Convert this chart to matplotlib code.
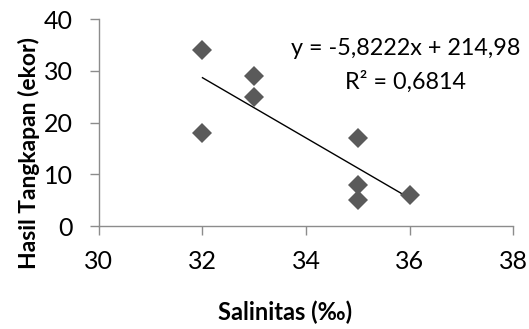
import numpy as np
import matplotlib
matplotlib.use('Agg')
import matplotlib.pyplot as plt

plt.rcParams['font.family'] = ['Lato', 'DejaVu Sans']

salinitas = [32, 32, 33, 33, 35, 35, 35, 36]
hasil = [34, 18, 29, 25, 17, 8, 5, 6]

# linear trendline (same as Excel's)
slope, intercept = np.polyfit(salinitas, hasil, 1)
pred = slope * np.array(salinitas) + intercept
r2 = 1 - np.sum((np.array(hasil) - pred) ** 2) / np.sum((np.array(hasil) - np.mean(hasil)) ** 2)

fig = plt.figure(figsize=(5.29, 3.29), dpi=100)
ax = fig.add_axes([0.187, 0.313, 0.783, 0.629])

ax.plot(salinitas, hasil, linestyle='none', marker='D', markersize=10.5,
        color='#5a5a5a', markeredgewidth=0, zorder=3)
xs = np.array([min(salinitas), max(salinitas)])
ax.plot(xs, slope * xs + intercept, color='black', linewidth=1, zorder=2)

ax.set_xlim(30, 38)
ax.set_ylim(0, 40)
ax.set_xticks([30, 32, 34, 36, 38])
ax.set_yticks([0, 10, 20, 30, 40])

for s in ['top', 'right']:
    ax.spines[s].set_visible(False)
for s in ['left', 'bottom']:
    ax.spines[s].set_color('#8c8c8c')
    ax.spines[s].set_linewidth(1)
ax.tick_params(axis='both', colors='#8c8c8c', labelcolor='black', labelsize=18,
               length=6.5, width=1)
ax.tick_params(axis='x', pad=11)
ax.tick_params(axis='y', pad=12)

ax.set_xlabel('Salinitas (‰)', fontsize=17, fontweight='bold', va='center')
ax.set_ylabel('Hasil Tangkapan (ekor)', fontsize=16.5, fontweight='bold', va='center')
ax.xaxis.set_label_coords(0.449, -0.415)
ax.yaxis.set_label_coords(-0.168, 0.353)

eq = 'y = {:.4f}x + {:.2f}'.format(slope, intercept).replace('.', ',')
r2txt = 'R² = {:.4f}'.format(r2).replace('.', ',')
ax.text(35.93, 34.4, eq, ha='center', va='center', fontsize=16.8)
ax.text(35.93, 27.8, r2txt, ha='center', va='center', fontsize=16.8)

fig.savefig('out.png', dpi=100)
